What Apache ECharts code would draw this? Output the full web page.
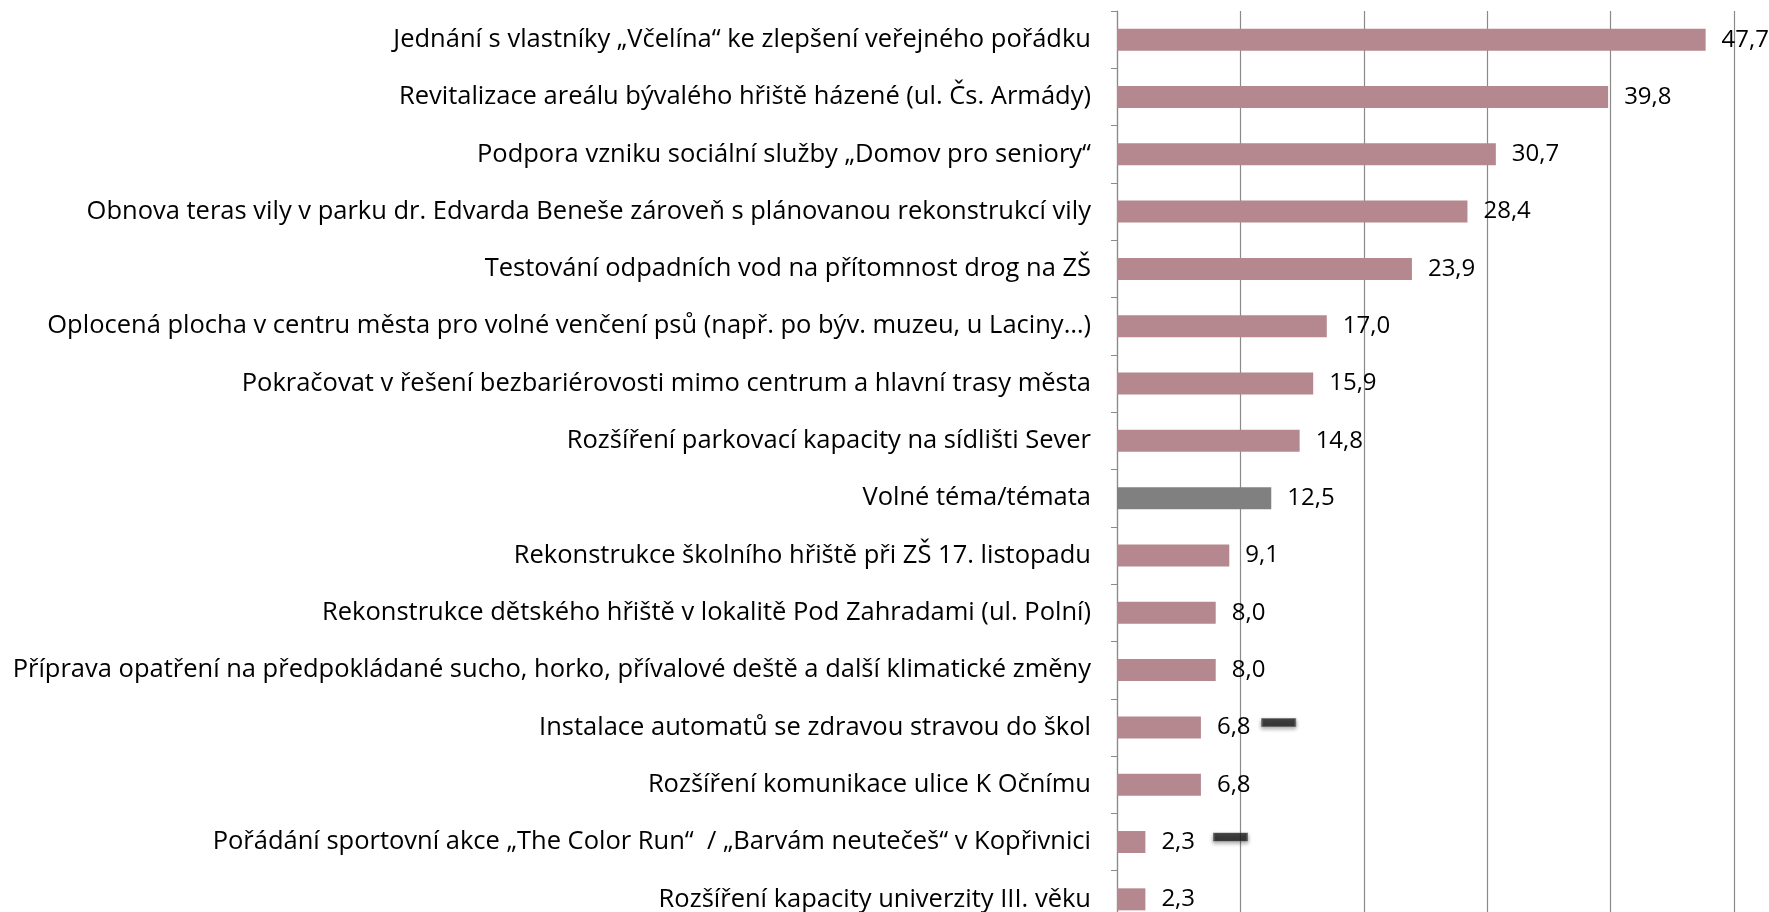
<!DOCTYPE html>
<html lang="cs">
<head>
    <meta charset="UTF-8">
    <title>Návrhy</title>
    <script type="text/javascript" src="https://cdn.jsdelivr.net/npm/echarts@6/dist/echarts.min.js"></script>
    <style>
        html, body { margin: 0; padding: 0; overflow: hidden; background: #fff; }
    </style>
</head>
<body>
<div id="main" style="width: 1769px;height:930px;"></div>

<script type="text/javascript">
    // kategorie shora dolů
    var categories = [
        'Jednání s vlastníky „Včelína“ ke zlepšení veřejného pořádku',
        'Revitalizace areálu bývalého hřiště házené (ul. Čs. Armády)',
        'Podpora vzniku sociální služby „Domov pro seniory“',
        'Obnova teras vily v parku dr. Edvarda Beneše zároveň s plánovanou rekonstrukcí vily',
        'Testování odpadních vod na přítomnost drog na ZŠ',
        'Oplocená plocha v centru města pro volné venčení psů (např. po býv. muzeu, u Laciny…)',
        'Pokračovat v řešení bezbariérovosti mimo centrum a hlavní trasy města',
        'Rozšíření parkovací kapacity na sídlišti Sever',
        'Volné téma/témata',
        'Rekonstrukce školního hřiště při ZŠ 17. listopadu',
        'Rekonstrukce dětského hřiště v lokalitě Pod Zahradami (ul. Polní)',
        'Příprava opatření na předpokládané sucho, horko, přívalové deště a další klimatické změny',
        'Instalace automatů se zdravou stravou do škol',
        'Rozšíření komunikace ulice K Očnímu',
        'Pořádání sportovní akce „The Color Run“  / „Barvám neutečeš“ v Kopřivnici',
        'Rozšíření kapacity univerzity III. věku'
    ];
    var values = [47.7, 39.8, 30.7, 28.4, 23.9, 17.0, 15.9, 14.8, 12.5, 9.1, 8.0, 8.0, 6.8, 6.8, 2.3, 2.3];
    var grayCats = ['Volné téma/témata'];

    // malé černé čárky, které jsou v původním grafu
    var dashValues = [13.1, 9.2];
    var dashCats = ['Instalace automatů se zdravou stravou do škol',
        'Pořádání sportovní akce „The Color Run“  / „Barvám neutečeš“ v Kopřivnici'];

    var pink = '#b5878f';
    var gray = '#808080';
    var fontName = 'Open Sans';

    var myChart = echarts.init(document.getElementById('main'));

    var barData = [];
    for (var i = 0; i < categories.length; i++) {
        barData.push({
            value: values[i],
            itemStyle: { color: grayCats.indexOf(categories[i]) >= 0 ? gray : pink }
        });
    }
    var dashData = [];
    for (var j = 0; j < dashValues.length; j++) {
        dashData.push([dashValues[j], dashCats[j]]);
    }

    var option = {
        animation: false,
        grid: { left: 1117, right: 35, top: 11, height: 917, containLabel: false },
        xAxis: {
            type: 'value',
            min: 0,
            max: 50,
            interval: 10,
            axisLine: { show: false },
            axisTick: { show: false },
            axisLabel: { show: false },
            splitLine: { show: true, lineStyle: { color: '#8a8a8a', width: 1.2 } }
        },
        yAxis: {
            type: 'category',
            inverse: true,
            data: categories,
            axisLine: { show: true, lineStyle: { color: '#8a8a8a', width: 1.2 } },
            axisTick: { show: true, length: 6, lineStyle: { color: '#8a8a8a' } },
            axisLabel: {
                margin: 26,
                color: '#000',
                fontFamily: fontName,
                fontSize: 25.5
            }
        },
        series: [{
            type: 'bar',
            data: barData,
            barWidth: 22,
            label: {
                show: true,
                position: 'right',
                distance: 16,
                color: '#000',
                fontFamily: fontName,
                fontSize: 24,
                formatter: function (p) {
                    return p.value.toFixed(1).replace('.', ',');
                }
            }
        }, {
            type: 'scatter',
            data: dashData,
            symbol: 'rect',
            symbolSize: [33, 8],
            symbolOffset: [0, -5],
            itemStyle: {
                color: '#1a1a1a',
                borderColor: '#555',
                borderWidth: 1,
                shadowColor: 'rgba(0,0,0,0.45)',
                shadowBlur: 4,
                shadowOffsetY: 2
            },
            z: 5
        }]
    };

    myChart.setOption(option);
</script>
</body>
</html>
